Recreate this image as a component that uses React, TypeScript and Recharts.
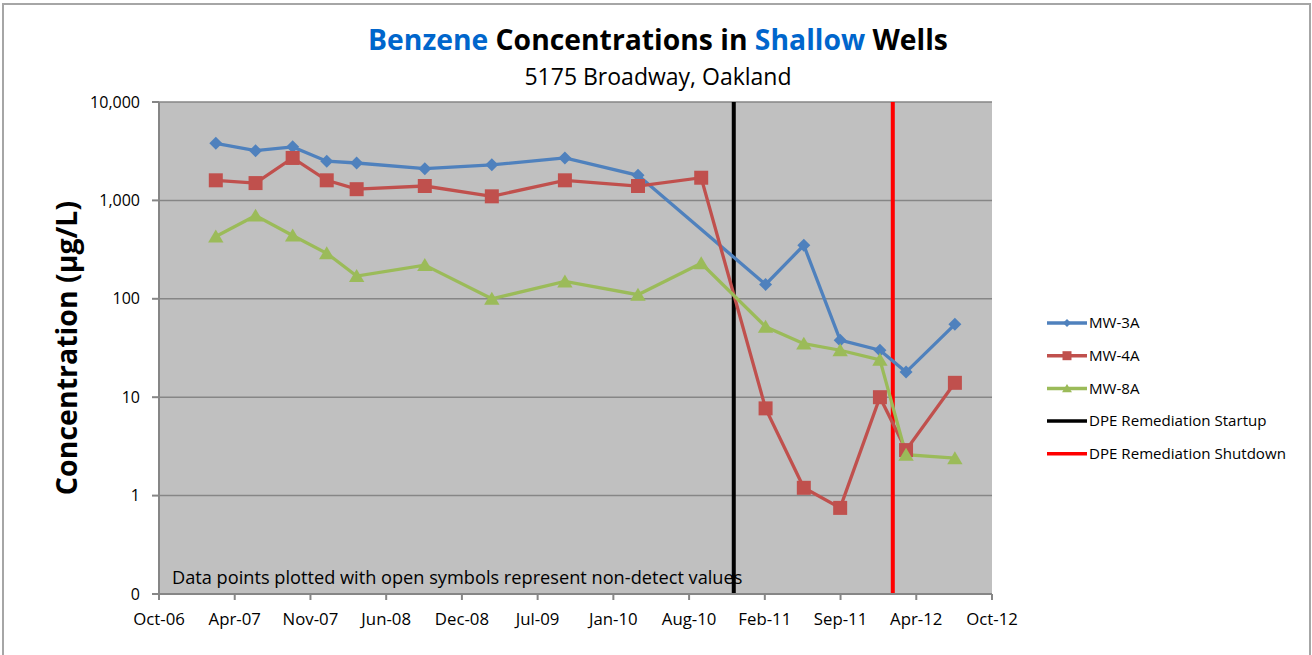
import React from 'react';
import {
  ComposedChart,
  Line,
  XAxis,
  YAxis,
  CartesianGrid,
  ReferenceLine,
} from 'recharts';

// x axis: Excel date axis starting mid-Oct 2006, major unit 200 days
const axisStart = '2006-10-11';
const tickStepDays = 200;
const xTickLabels = ['Oct-06', 'Apr-07', 'Nov-07', 'Jun-08', 'Dec-08', 'Jul-09', 'Jan-10', 'Aug-10', 'Feb-11', 'Sep-11', 'Apr-12', 'Oct-12'];

const yTicks = [0.1, 1, 10, 100, 1000, 10000];

const sampleDates = [
  '2007-03-10', '2007-06-23', '2007-09-29', '2007-12-28', '2008-03-16', '2008-09-12',
  '2009-03-08', '2009-09-17', '2010-03-29', '2010-09-12', '2011-03-01', '2011-06-10',
  '2011-09-14', '2011-12-28', '2012-03-06', '2012-07-13',
];
const mw3a = [3800, 3200, 3500, 2500, 2400, 2100, 2300, 2700, 1800, null, 140, 350, 38, 30, 18, 55];
const mw4a = [1600, 1500, 2700, 1600, 1300, 1400, 1100, 1600, 1400, 1700, 7.7, 1.2, 0.75, 10, 2.9, 14];
const mw8a = [430, 700, 440, 290, 170, 220, 100, 150, 110, 230, 52, 35, 30, 24, 2.6, 2.4];

const dpeStartup = '2010-12-07';
const dpeShutdown = '2012-01-31';

const BLUE = '#4F81BD';
const RED = '#C0504D';
const GREEN = '#9BBB59';
const GRID = '#868686';
const FONT = '"Open Sans", sans-serif';

const toDay = (d: string) => (Date.parse(d) - Date.parse(axisStart)) / 86400000;

const data = sampleDates.map((d, i) => ({
  day: toDay(d),
  mw3a: mw3a[i],
  mw4a: mw4a[i],
  mw8a: mw8a[i],
}));

const xTicks = xTickLabels.map((_, i) => i * tickStepDays);

type Shape = 'diamond' | 'square' | 'triangle';

function markerPath(shape: Shape, cx: number, cy: number, r: number) {
  if (shape === 'diamond') {
    return `M${cx},${cy - r}L${cx + r},${cy}L${cx},${cy + r}L${cx - r},${cy}Z`;
  }
  if (shape === 'square') {
    return `M${cx - r},${cy - r}L${cx + r},${cy - r}L${cx + r},${cy + r}L${cx - r},${cy + r}Z`;
  }
  return `M${cx},${cy - r}L${cx + r * 1.1},${cy + r * 0.85}L${cx - r * 1.1},${cy + r * 0.85}Z`;
}

const makeDot = (shape: Shape, color: string, r: number) => (props: any) => {
  const { cx, cy, index, value } = props;
  if (value == null || cx == null || cy == null) return <g key={`d-${index}`} />;
  return <path key={`d-${index}`} d={markerPath(shape, cx, cy, r)} fill={color} />;
};

const legendItems: { name: string; color: string; shape?: Shape; r?: number }[] = [
  { name: 'MW-3A', color: BLUE, shape: 'diamond', r: 4 },
  { name: 'MW-4A', color: RED, shape: 'square', r: 4.5 },
  { name: 'MW-8A', color: GREEN, shape: 'triangle', r: 4.5 },
  { name: 'DPE Remediation Startup', color: '#000000' },
  { name: 'DPE Remediation Shutdown', color: '#FF0000' },
];

export default function App() {
  return (
    <div
      style={{
        position: 'absolute',
        left: 0,
        top: 0,
        width: 1312,
        height: 655,
        overflow: 'hidden',
        background: '#ffffff',
        fontFamily: FONT,
      }}
    >
      <div
        style={{
          position: 'absolute',
          left: 2,
          top: 3,
          width: 1309,
          height: 652,
          boxSizing: 'border-box',
          borderLeft: '2px solid #a6a6a6',
          borderTop: '2px solid #a6a6a6',
          borderRight: '2px solid #a6a6a6',
        }}
      />
      <div style={{ position: 'absolute', left: 0, top: 0 }}>
        <ComposedChart
          width={1312}
          height={655}
          data={data}
          margin={{ top: 102, right: 320, bottom: 21, left: 0 }}
        >
          <CartesianGrid vertical={false} stroke={GRID} strokeWidth={1.5} fill="#C0C0C0" fillOpacity={1} />
          <XAxis
            type="number"
            dataKey="day"
            domain={[0, tickStepDays * (xTickLabels.length - 1)]}
            ticks={xTicks}
            tickFormatter={(v: number) => xTickLabels[Math.round(v / tickStepDays)]}
            height={40}
            tickSize={6}
            tickMargin={13}
            interval={0}
            stroke={GRID}
            strokeWidth={2}
            tick={{ fill: '#000', fontSize: 16.8 }}
            allowDataOverflow
          />
          <YAxis
            type="number"
            scale="log"
            domain={[0.1, 10000]}
            ticks={yTicks}
            tickFormatter={(v: number) => (v < 1 ? '0' : v.toLocaleString('en-US'))}
            width={159}
            tickSize={7}
            tickMargin={12}
            interval={0}
            stroke={GRID}
            strokeWidth={2}
            tick={{ fill: '#000', fontSize: 16 }}
            allowDataOverflow
            label={{
              content: () => (
                <text
                  x={77}
                  y={348}
                  transform="rotate(-90 77 348)"
                  textAnchor="middle"
                  fontSize={28.5}
                  fontWeight="bold"
                  fill="#000"
                >
                  Concentration (µg/L)
                </text>
              ),
            }}
          />
          <ReferenceLine x={toDay(dpeStartup)} stroke="#000000" strokeWidth={4} />
          <ReferenceLine x={toDay(dpeShutdown)} stroke="#FF0000" strokeWidth={4} />
          <Line
            dataKey="mw3a"
            stroke={BLUE}
            strokeWidth={3.3}
            connectNulls
            dot={makeDot('diamond', BLUE, 6.5)}
            activeDot={false}
            isAnimationActive={false}
          />
          <Line
            dataKey="mw4a"
            stroke={RED}
            strokeWidth={3.3}
            dot={makeDot('square', RED, 7)}
            activeDot={false}
            isAnimationActive={false}
          />
          <Line
            dataKey="mw8a"
            stroke={GREEN}
            strokeWidth={3.3}
            dot={makeDot('triangle', GREEN, 7)}
            activeDot={false}
            isAnimationActive={false}
          />
        </ComposedChart>
      </div>
      {/* titles, note and legend */}
      <svg
        width={1312}
        height={655}
        style={{ position: 'absolute', left: 0, top: 0, pointerEvents: 'none', fontFamily: FONT }}
      >
        <text x={658} y={49.5} textAnchor="middle" fontSize={28.3} fontWeight="bold" fill="#000">
          <tspan fill="#0066CC">Benzene</tspan>
          {' Concentrations in '}
          <tspan fill="#0066CC">Shallow</tspan>
          {' Wells'}
        </text>
        <text x={658} y={85} textAnchor="middle" fontSize={23} fill="#000">
          5175 Broadway, Oakland
        </text>
        <text x={172} y={583.5} fontSize={18.2} fill="#000">
          Data points plotted with open symbols represent non-detect values
        </text>
        {legendItems.map((item, i) => {
          const cy = 323 + i * 32.7;
          return (
            <g key={item.name}>
              <line x1={1047} x2={1087} y1={cy} y2={cy} stroke={item.color} strokeWidth={3.5} />
              {item.shape && (
                <path d={markerPath(item.shape, 1067, cy, item.r || 4)} fill={item.color} />
              )}
              <text x={1089} y={cy + 5.3} fontSize={15.1} fill="#000">
                {item.name}
              </text>
            </g>
          );
        })}
      </svg>
    </div>
  );
}
